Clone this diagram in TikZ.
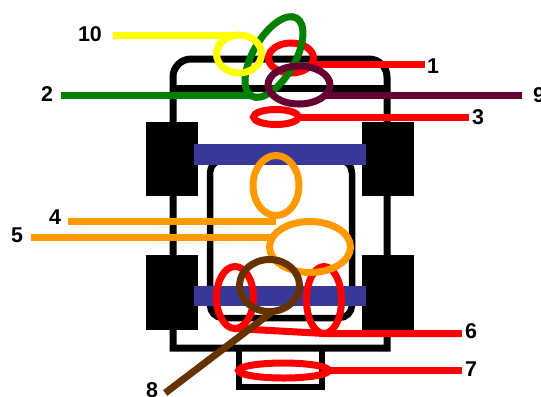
\documentclass[tikz,border=0pt]{standalone}
\usepackage{fontspec}
\setmainfont{Liberation Sans}
\usetikzlibrary{shapes.geometric,calc}
\definecolor{cYellow}{HTML}{FFFF00}
\definecolor{cRed}{HTML}{FF0000}
\definecolor{cGreen}{HTML}{008000}
\definecolor{cPurple}{HTML}{660033}
\definecolor{cOrange}{HTML}{FF9900}
\definecolor{cBrown}{HTML}{663300}
\definecolor{cBlue}{HTML}{383898}
\begin{document}
\begin{tikzpicture}[x=1bp,y=-1bp,
  frame/.style={line width=7bp,black},
  ring/.style={ellipse,draw,line width=7bp,inner sep=0pt,outer sep=0pt},
  lead/.style={line width=7bp},
  num/.style={font=\bfseries\fontsize{21.5}{21.5}\selectfont,inner sep=0pt}]
\useasboundingbox (0,0) rectangle (541,396);

% outer chassis with rounded front
\draw[frame] (173,348) -- (173,200) [rounded corners=18bp] -- (173,59) -- (387,59) -- (387,200) [sharp corners] -- (387,348) -- cycle;
\draw[frame] (173,88) -- (387,88);
% rear box
\draw[line width=6.5bp] (239,348) rectangle (322,387);
% wheels
\fill (146,122) rectangle (198,196);
\fill (362,122) rectangle (414,196);
\fill (146,255) rectangle (198,330);
\fill (362,255) rectangle (414,330);
% inner frame
\draw[line width=6.5bp, rounded corners=13bp] (210,160) rectangle (352,318);
% axles
\fill[cBlue] (194,144) rectangle (366,165);
\fill[cBlue] (194,286) rectangle (366,306);

% labels
\node[num] (l10) at (90,34) {10};
\node[num] (l1) at (433,66) {1};
\node[num] (l2) at (47,94) {2};
\node[num] (l9) at (539,95) {9};
\node[num] (l3) at (478,117) {3};
\node[num] (l4) at (55,217) {4};
\node[num] (l5) at (17,235) {5};
\node[num] (l6) at (471,331) {6};
\node[num] (l7) at (471,369) {7};
\node[num] (l8) at (152,390) {8};

% marked regions and their leaders
\node[ring,draw=cRed,minimum width=45bp,minimum height=30bp] (e1) at (291,58) {};
\draw[lead,cRed,shorten >=2bp] (e1.-19) -- (l1.west |- e1.-19);

\node[ring,draw=cGreen,minimum width=90bp,minimum height=42bp,rotate=60] (g2) at (274,57) {};
\draw[lead,cGreen,shorten <=8bp] (l2.east |- g2.west) -- (g2.west);

\node[ring,draw=cYellow,minimum width=45bp,minimum height=38bp] (y10) at (239,54) {};
\draw[lead,cYellow,shorten <=11bp] (l10.east |- y10.111) -- (y10.111);

\node[ring,draw=cPurple,minimum width=62bp,minimum height=38bp] (p9) at (299,85) {};
\draw[lead,cPurple,shorten >=11bp] (p9.-21) -- (l9.west |- p9.-21);

\node[ring,draw=cRed,minimum width=45bp,minimum height=15bp] (e3) at (276,117) {};
\draw[lead,cRed,shorten >=3bp] (e3.east) -- (l3.west |- e3.east);

\node[ring,draw=cOrange,minimum width=46bp,minimum height=60bp] (e4) at (276,185.5) {};
\coordinate (c4) at ([yshift=-6bp]e4.south);
\draw[lead,cOrange,shorten <=7bp] (l4.east |- c4) -- (c4);

\node[ring,draw=cRed,minimum width=37bp,minimum height=62bp] (e6a) at (235,297.5) {};
\node[ring,draw=cRed,minimum width=35bp,minimum height=67bp] (e6b) at (324,300) {};
\draw[lead,cRed,shorten >=3bp] (e6a.south) -- (e6b.south) -- (l6.west |- e6b.south);

\node[ring,draw=cOrange,minimum width=81bp,minimum height=51bp] (e5) at (310,247) {};
\draw[lead,cOrange,shorten <=8bp] (l5.east |- e5.165) -- (e5.165);

\node[ring,draw=cBrown,minimum width=60bp,minimum height=52bp] (e8) at (269.5,285.5) {};
\draw[lead,cBrown] (e8.-83) -- ($(l8.east)+(7,3)$);

\node[ring,draw=cRed,minimum width=90bp,minimum height=15bp] (e7) at (283.5,370.5) {};
\draw[lead,cRed,shorten >=3bp] (e7.east) -- (l7.west |- e7.east);
\end{tikzpicture}
\end{document}
